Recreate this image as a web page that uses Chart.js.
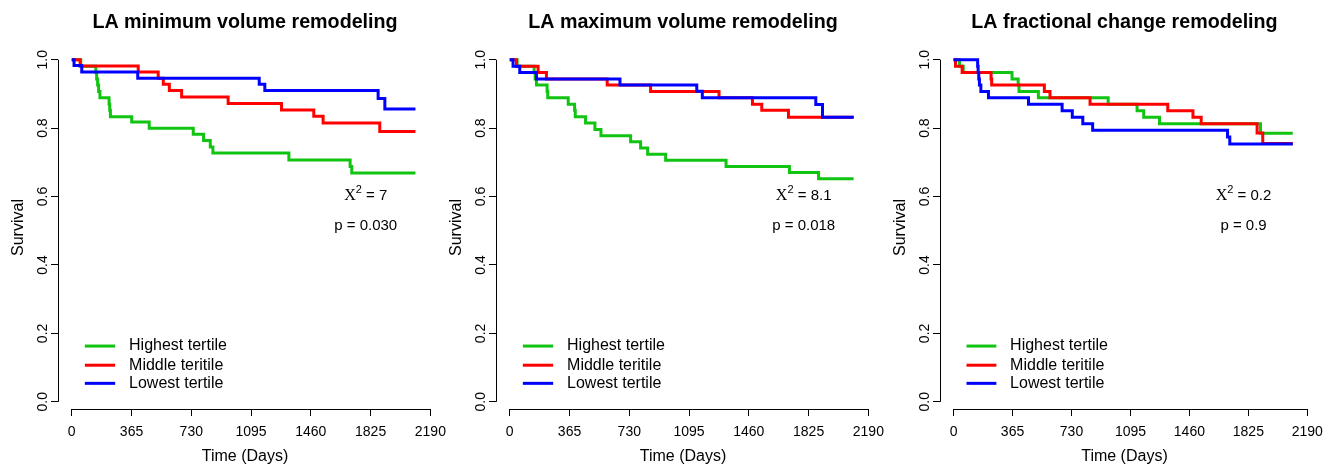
<!DOCTYPE html>
<html>
<head>
<meta charset="utf-8">
<script src="https://cdn.jsdelivr.net/npm/chart.js@4.4.1/dist/chart.umd.min.js"></script>
<style>
  html, body { margin: 0; padding: 0; background: #fff; }
  #wrap { position: relative; width: 1331px; height: 464px; }
  #wrap canvas { position: absolute; left: 0; top: 0; }
</style>
</head>
<body>
<div id="wrap">
  <canvas id="c1" width="1331" height="464"></canvas>
  <canvas id="c2" width="1331" height="464"></canvas>
  <canvas id="c3" width="1331" height="464"></canvas>
</div>
<script>
// --- données ---
const xTicks = [0, 365, 730, 1095, 1460, 1825, 2190];
const yTicks = [0, 0.2, 0.4, 0.6, 0.8, 1.0];
const groupNames = ['Highest tertile', 'Middle teritile', 'Lowest tertile'];
const panelTitles = ['LA minimum volume remodeling', 'LA maximum volume remodeling', 'LA fractional change remodeling'];
const chiValues = ['7', '8.1', '0.2'];
const pValues = ['0.030', '0.018', '0.9'];

// LA minimum volume
const minHighDays = [0, 55, 147, 152, 158, 164, 172, 228, 232, 236, 366, 473, 742, 805, 846, 862, 1326, 1700, 1710, 2099];
const minHighSurv = [1, 0.981, 0.963, 0.944, 0.926, 0.907, 0.889, 0.870, 0.852, 0.833, 0.818, 0.800, 0.782, 0.764, 0.745, 0.727, 0.707, 0.688, 0.669, 0.669];
const minMidDays = [0, 51, 406, 528, 559, 596, 671, 955, 1281, 1478, 1535, 1881, 2099];
const minMidSurv = [1, 0.982, 0.964, 0.946, 0.928, 0.910, 0.891, 0.872, 0.853, 0.835, 0.815, 0.790, 0.790];
const minLowDays = [0, 14, 61, 403, 1145, 1179, 1871, 1912, 2099];
const minLowSurv = [1, 0.983, 0.964, 0.946, 0.928, 0.910, 0.887, 0.856, 0.856];

// LA maximum volume
const maxHighDays = [0, 45, 149, 155, 163, 228, 232, 357, 396, 400, 463, 520, 557, 738, 799, 842, 952, 1321, 1708, 1886, 2100];
const maxHighSurv = [1, 0.981, 0.963, 0.944, 0.926, 0.907, 0.889, 0.870, 0.852, 0.833, 0.815, 0.796, 0.778, 0.760, 0.742, 0.724, 0.706, 0.688, 0.670, 0.652, 0.652];
const maxMidDays = [0, 41, 173, 224, 595, 860, 1278, 1482, 1539, 1702, 2100];
const maxMidSurv = [1, 0.981, 0.963, 0.944, 0.926, 0.907, 0.889, 0.870, 0.852, 0.832, 0.832];
const maxLowDays = [0, 20, 61, 163, 673, 1142, 1176, 1869, 1910, 2100];
const maxLowSurv = [1, 0.981, 0.963, 0.944, 0.926, 0.908, 0.889, 0.869, 0.832, 0.832];

// LA fractional change
const fcHighDays = [0, 37, 60, 362, 400, 405, 525, 957, 1136, 1177, 1275, 1900, 2100];
const fcHighSurv = [1, 0.981, 0.963, 0.944, 0.926, 0.907, 0.889, 0.870, 0.851, 0.832, 0.813, 0.785, 0.785];
const fcMidDays = [0, 12, 53, 232, 236, 562, 597, 845, 1326, 1482, 1533, 1879, 1914, 2100];
const fcMidSurv = [1, 0.981, 0.963, 0.944, 0.926, 0.907, 0.889, 0.870, 0.851, 0.832, 0.813, 0.786, 0.755, 0.755];
const fcLowDays = [0, 149, 152, 156, 160, 169, 216, 464, 672, 735, 800, 861, 1696, 1710, 2100];
const fcLowSurv = [1, 0.981, 0.963, 0.944, 0.926, 0.907, 0.889, 0.870, 0.851, 0.832, 0.813, 0.794, 0.774, 0.754, 0.754];

// --- mise en page ---
const groupColors = ['#12c412', '#ff0000', '#0000ff'];
const chartLefts = [58, 496, 940];
const chartRights = [432, 870, 1314];
const sansFont = '"Liberation Sans", Arial, Helvetica, sans-serif';

function toPoints(days, surv) {
  return days.map((d, i) => ({ x: d, y: surv[i] }));
}

const panelData = [
  [[minHighDays, minHighSurv], [minMidDays, minMidSurv], [minLowDays, minLowSurv]],
  [[maxHighDays, maxHighSurv], [maxMidDays, maxMidSurv], [maxLowDays, maxLowSurv]],
  [[fcHighDays, fcHighSurv], [fcMidDays, fcMidSurv], [fcLowDays, fcLowSurv]]
];

// Axes façon R + légende + annotations
const rStylePlugin = {
  id: 'rStyle',
  afterDraw(chart) {
    const c = chart.ctx;
    const xs = chart.scales.x, ys = chart.scales.y;
    const idx = chart.options.plugins.rStyle.panel;
    c.save();
    // lignes d'axe entre premier et dernier tick
    c.strokeStyle = '#000';
    c.lineWidth = 1;
    c.beginPath();
    const yb = Math.round(ys.bottom) + 0.5;
    c.moveTo(xs.getPixelForValue(0), yb);
    c.lineTo(xs.getPixelForValue(2190), yb);
    const xl = Math.round(xs.left) + 0.5;
    c.moveTo(xl, ys.getPixelForValue(0));
    c.lineTo(xl, ys.getPixelForValue(1));
    c.stroke();

    // légende
    c.font = '16px ' + sansFont;
    c.textBaseline = 'middle';
    c.textAlign = 'left';
    const legRows = [0.163, 0.107, 0.054];
    groupNames.forEach((name, i) => {
      const y = ys.getPixelForValue(legRows[i]);
      c.strokeStyle = groupColors[i];
      c.lineWidth = 3;
      c.beginPath();
      c.moveTo(xs.getPixelForValue(80), y);
      c.lineTo(xs.getPixelForValue(265), y);
      c.stroke();
      c.fillStyle = '#000';
      c.fillText(name, xs.getPixelForValue(350), y);
    });

    // X² et p
    const cx = xs.getPixelForValue(1795);
    const y1 = ys.getPixelForValue(0.604);
    const y2 = ys.getPixelForValue(0.513);
    c.fillStyle = '#000';
    const partX = 'X', partSup = '2', partRest = ' = ' + chiValues[idx];
    c.font = '16px "Liberation Serif", "Times New Roman", serif';
    const wX = c.measureText(partX).width;
    c.font = '11px ' + sansFont;
    const wS = c.measureText(partSup).width;
    c.font = '15px ' + sansFont;
    const wR = c.measureText(partRest).width;
    let x0 = cx - (wX + wS + wR) / 2;
    c.textAlign = 'left';
    c.font = '16px "Liberation Serif", "Times New Roman", serif';
    c.fillText(partX, x0, y1 + 1);
    c.font = '11px ' + sansFont;
    c.fillText(partSup, x0 + wX, y1 - 5);
    c.font = '15px ' + sansFont;
    c.fillText(partRest, x0 + wX + wS, y1 + 1);
    c.textAlign = 'center';
    c.fillText('p = ' + pValues[idx], cx, y2);
    c.restore();
  }
};

function buildChart(canvasId, idx) {
  const datasets = panelData[idx].map((g, i) => ({
    label: groupNames[i],
    data: toPoints(g[0], g[1]),
    borderColor: groupColors[i],
    borderWidth: 3,
    pointRadius: 0,
    stepped: 'before',
    fill: false,
    order: 3 - i
  }));

  return new Chart(document.getElementById(canvasId), {
    type: 'line',
    data: { datasets },
    plugins: [rStylePlugin],
    options: {
      responsive: false,
      animation: false,
      layout: {
        padding: { left: chartLefts[idx] - 50, right: 1331 - chartRights[idx], top: 0, bottom: 0 }
      },
      scales: {
        x: {
          type: 'linear',
          min: -84,
          max: 2200,
          afterBuildTicks: s => { s.ticks = xTicks.map(v => ({ value: v })); },
          afterFit: s => { s.height = 55; },
          border: { display: false },
          grid: { drawOnChartArea: false, drawTicks: true, tickLength: 7, color: '#000', lineWidth: 1 },
          ticks: {
            color: '#000', font: { family: sansFont, size: 14 }, padding: 8, maxRotation: 0, autoSkip: false,
            callback: v => String(v)
          },
          title: { display: true, text: 'Time (Days)', color: '#000', font: { family: sansFont, size: 16 }, padding: { top: 0, bottom: -2 } }
        },
        y: {
          type: 'linear',
          min: -0.021,
          max: 1.04,
          afterBuildTicks: s => { s.ticks = yTicks.map(v => ({ value: v })); },
          afterFit: s => { s.width = 50; },
          border: { display: false },
          grid: { drawOnChartArea: false, drawTicks: true, tickLength: 7, color: '#000', lineWidth: 1 },
          ticks: {
            color: '#000', font: { family: sansFont, size: 14 }, padding: -2,
            minRotation: 90, maxRotation: 90, crossAlign: 'center',
            callback: v => v.toFixed(1)
          },
          title: { display: true, text: 'Survival', color: '#000', font: { family: sansFont, size: 16 }, padding: { top: 1, bottom: 0 } }
        }
      },
      plugins: {
        legend: { display: false },
        tooltip: { enabled: false },
        title: {
          display: true,
          text: panelTitles[idx],
          fullSize: false,
          color: '#000',
          font: { family: sansFont, size: 19.7, weight: 'bold' },
          padding: { top: 11, bottom: 11.4 }
        },
        rStyle: { panel: idx }
      }
    }
  });
}

buildChart('c1', 0);
buildChart('c2', 1);
buildChart('c3', 2);
</script>
</body>
</html>
